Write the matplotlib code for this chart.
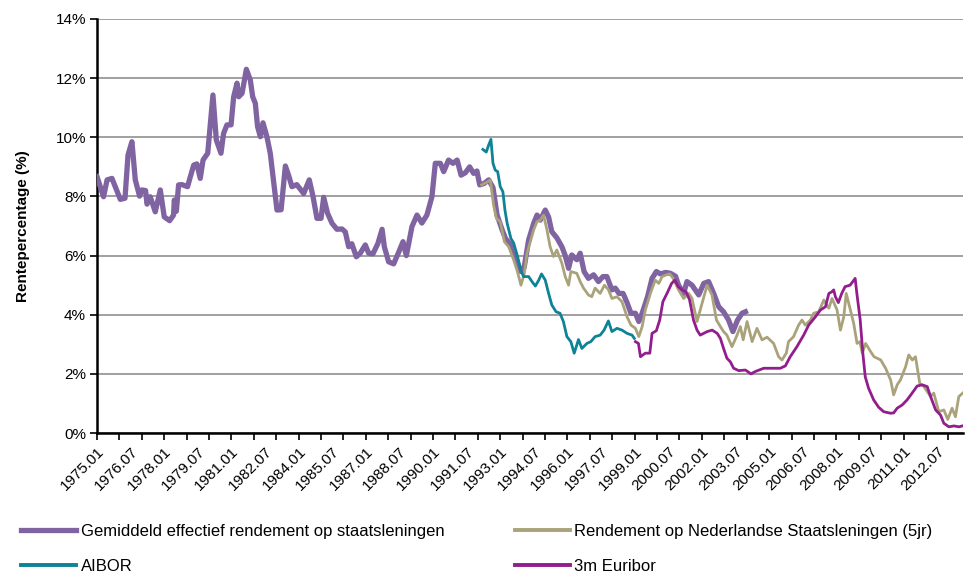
import matplotlib
matplotlib.use("Agg")
import matplotlib.pyplot as plt
from matplotlib.ticker import FuncFormatter, MultipleLocator

plt.rcParams['font.family'] = ['Liberation Sans', 'DejaVu Sans']

# x = maanden sinds 1975.01, waarden in %
gem_m = [0, 3.5, 5.4, 8, 12.5, 15, 16.6, 18.7, 20.5, 22.8, 24, 26, 26.8, 28.5, 31.2, 33.9, 36, 38.9,
         41, 41.4, 42.5, 43.7, 45.5, 48.5, 49.6, 51.8, 53.5, 55.3, 56.8, 59.3, 62.1, 63.9, 66.4, 67.8,
         69.6, 71.8, 73.2, 75, 75.9, 77.7, 80, 82.1, 83.4, 84.8, 86, 87.5, 88.9, 91, 92.8, 96.4, 98.6,
         100.9, 102.6, 104.4, 107, 110.7, 113.7, 115.7, 117.8, 120, 121.4, 123.5, 125.9, 128.5, 131.2,
         133, 134.8, 136.5, 138.9, 141, 143.7, 145.5, 147.8, 150.4, 152.7, 153.9, 156.2, 158.9, 161.5,
         163.9, 165.7, 168.7, 171.4, 174, 176.7, 179.4, 181.2, 183.9, 185.7, 188.3, 190.7, 192.9, 195,
         197.3, 199.6, 201.7, 203.5, 205, 207.4, 209.8, 212.1, 214.3, 217, 218.8, 221.6, 224.3, 227,
         228.8, 231.2, 233.9, 235.7, 237.4, 240.1, 241.9, 243.6, 246.3, 249, 250.8, 252.6, 254.3, 257,
         258.8, 260.9, 263.2, 266, 268.6, 271, 273.1, 275.8, 277.6, 279.6, 281.8, 283.9, 286, 288.4,
         290.2, 292, 294.9, 297.3, 299.6, 301.8, 304.6, 307.2, 309.9, 311.5, 314.2, 316, 318.7, 322.3,
         325, 327.6, 330.3, 333, 335.6, 338.3, 340.6, 343.1, 345.5, 347.3]
gem_v = [8.67, 7.99, 8.56, 8.61, 7.9, 7.94, 9.4, 9.85, 8.56, 8.01, 8.22, 8.2, 7.74, 7.99, 7.48, 8.22, 7.31, 7.18,
         7.37, 7.88, 7.5, 8.39, 8.4, 8.33, 8.58, 9.06, 9.1, 8.61, 9.23, 9.46, 11.43, 9.91, 9.46, 10.13,
         10.42, 10.42, 11.37, 11.83, 11.37, 11.49, 12.3, 11.94, 11.37, 11.15, 10.36, 10.02, 10.49, 10.02, 9.46, 7.54, 7.55,
         9.03, 8.72, 8.33, 8.4, 8.1, 8.56, 8.0, 7.26, 7.26, 7.97, 7.43, 7.09, 6.89, 6.9,
         6.8, 6.3, 6.4, 5.96, 6.08, 6.36, 6.08, 6.06, 6.4, 6.89, 6.3, 5.79, 5.72, 6.1,
         6.47, 6.0, 6.98, 7.37, 7.1, 7.37, 7.99, 9.12, 9.12, 8.84, 9.23, 9.12, 9.23, 8.72,
         8.8, 9.0, 8.78, 8.86, 8.39, 8.44, 8.56, 8.3, 7.37, 6.87, 6.58, 6.36, 5.91, 5.46,
         5.6, 6.53, 7.09, 7.37, 7.2, 7.54, 7.3, 6.81, 6.6, 6.3, 6.0, 5.57, 6.02, 5.86,
         6.08, 5.46, 5.23, 5.35, 5.12, 5.29, 5.29, 4.84, 4.9, 4.72, 4.72, 4.41, 4.05, 4.05,
         3.77, 4.05, 4.61, 5.23, 5.46, 5.38, 5.43, 5.4, 5.3, 5.0, 4.72, 5.12, 5.0, 4.67,
         5.06, 5.12, 4.72, 4.27, 4.1, 3.82, 3.43, 3.82, 4.05, 4.1]

nl5_m = [206, 208.6, 210.7, 212.4, 213.9, 216, 218.2, 220.5, 223.2, 225, 227.1, 228.9, 230.3, 232.1, 233.9,
         235.7, 237.4, 239.2, 241, 242.7, 244.5, 246.3, 249, 250.8, 252.6, 253.8, 257, 258.8, 260.6, 263.2,
         265, 266.8, 269.5, 271.8, 274, 275.8, 278.5, 281.2, 283.9, 286, 288.4, 290.2, 292, 293.7, 296.4,
         299, 300.9, 302.7, 305, 306.8, 308.6, 311.5, 314.2, 316.9, 318.7, 321.4, 324.1, 326.8, 329.4,
         331.8, 333.9, 335.6, 337.4, 340.1, 342.5, 344.6, 346.1, 348.2, 350.9, 353.5, 356.2, 358.9, 362.4,
         365.1, 366.9, 369.2, 370.4, 373.1, 375.8, 377.6, 379.4, 382.1, 383.9, 386.6, 389.3, 392, 393.7,
         396.4, 398.2, 400, 401.3, 403.1, 405.3, 407.1, 408.6, 409.9, 411.7, 414.4, 416.2, 419.8, 422.4,
         425.1, 426.7, 428.6, 430.4, 433.1, 434.8, 436.7, 438.4, 440.7, 442.9, 444.7, 446.5, 448.2, 450.9,
         453.6, 455.7, 458, 459.8, 461.6, 463.9]
nl5_v = [8.39, 8.47, 8.56, 7.71, 7.26, 7.14, 6.47, 6.3, 5.85, 5.5, 5.0, 5.4, 6.08, 6.47, 6.87,
         7.15, 7.2, 7.37, 6.87, 6.3, 5.97, 6.19, 5.74, 5.29, 5.0, 5.46, 5.4, 5.12, 4.9, 4.67,
         4.61, 4.9, 4.72, 5.0, 4.84, 4.55, 4.61, 4.44, 3.93, 3.65, 3.54, 3.26, 3.6, 4.16, 4.72,
         5.17, 5.06, 5.29, 5.35, 5.38, 5.23, 4.84, 4.55, 4.72, 4.55, 3.77, 4.39, 5.0, 4.67,
         3.82, 3.6, 3.43, 3.31, 2.92, 3.26, 3.6, 3.15, 3.77, 3.09, 3.54, 3.15, 3.24, 3.03,
         2.58, 2.47, 2.7, 3.09, 3.26, 3.65, 3.82, 3.65, 3.82, 4.05, 4.1, 4.5, 4.22, 4.55,
         4.16, 3.48, 3.93, 4.72, 4.27, 3.71, 3.03, 3.09, 2.7, 3.03, 2.75, 2.58, 2.47, 2.19,
         1.79, 1.29, 1.63, 1.8, 2.24, 2.64, 2.47, 2.58, 1.68, 1.57, 1.4, 1.24, 1.35, 0.72,
         0.78, 0.46, 0.84, 0.55, 1.23, 1.36]

aibor_m = [206.7, 208.5, 209.8, 211, 212.1, 213.3, 214.6, 216, 217.4, 218.5, 219.7, 221.7, 223.2, 225.3,
           227, 228.5, 231.2, 233, 234.8, 236.6, 238.1, 240.1, 241.9, 243.6, 245.9, 248, 249.8, 251.7,
           253.8, 255.6, 257.9, 259.7, 262.4, 264.5, 266.8, 269.5, 271.6, 273.9, 275.8, 278.5, 281.2,
           283.9, 286.6, 287.8]
aibor_v = [9.59, 9.5, 9.74, 9.93, 9.12, 8.89, 8.84, 8.33, 8.16, 7.54, 7.09, 6.58, 6.42, 5.96,
           5.5, 5.29, 5.29, 5.12, 4.97, 5.17, 5.38, 5.17, 4.72, 4.33, 4.1, 4.05, 3.77, 3.26,
           3.09, 2.7, 3.16, 2.86, 3.03, 3.09, 3.26, 3.31, 3.48, 3.79, 3.43, 3.54, 3.48,
           3.37, 3.31, 3.2]

eur_m = [288.4, 290, 291.1, 293.7, 296.1, 297.3, 299.6, 301.4, 303.1, 305.3, 307.8, 309.5, 311.3, 313.3,
         315.5, 317.4, 319.5, 321.4, 323.1, 326.8, 329.5, 332.2, 333.9, 335.6, 337.4, 339.2, 341, 343.7,
         347.3, 350.3, 352.6, 357.1, 362.4, 366, 368.7, 371.3, 374.9, 378.5, 381.2, 384.8, 387.5, 390.2,
         392, 393.7, 394.6, 395.5, 397.1, 398.9, 400.7, 403.4, 406.1, 407, 408.8, 410.2, 411.5, 413.3,
         416, 418.7, 421.4, 425, 426.7, 428.6, 431.3, 433.9, 436.6, 439.3, 442, 444.7, 446.5, 449.2,
         451.8, 453.6, 456.3, 459, 461.7, 463.5]
eur_v = [3.09, 3.03, 2.58, 2.7, 2.7, 3.37, 3.46, 3.82, 4.44, 4.72, 5.06, 5.17, 4.95, 4.84,
         4.78, 4.5, 3.82, 3.48, 3.31, 3.43, 3.48, 3.37, 3.2, 2.86, 2.53, 2.41, 2.19, 2.11,
         2.13, 2.0, 2.08, 2.19, 2.19, 2.19, 2.27, 2.58, 2.92, 3.31, 3.65, 3.93, 4.16, 4.27,
         4.72, 4.78, 4.84, 4.61, 4.41, 4.72, 4.95, 5.0, 5.23, 4.72, 3.82, 2.7, 1.9, 1.51,
         1.12, 0.87, 0.72, 0.67, 0.68, 0.84, 0.95, 1.12, 1.35, 1.59, 1.63, 1.57, 1.23, 0.78,
         0.61, 0.33, 0.21, 0.24, 0.21, 0.24]

labels = ['Gemiddeld effectief rendement op staatsleningen',
          'Rendement op Nederlandse Staatsleningen (5jr)',
          'AIBOR', '3m Euribor']
tick_labels = ['%d.%s' % (1975 + i * 18 // 12, '01' if (i * 18) % 12 == 0 else '07') for i in range(26)]

fig = plt.figure(figsize=(9.73, 5.74), dpi=100)
ax = fig.add_axes([0.0997, 0.2456, 0.8903, 0.7213])

l1, = ax.plot(gem_m, gem_v, color='#8064A2', lw=3.8, solid_joinstyle='round', zorder=3)
l2, = ax.plot(nl5_m, nl5_v, color='#A9A27A', lw=2.0, zorder=4)
l3, = ax.plot(aibor_m, aibor_v, color='#0E8296', lw=2.0, zorder=4)
l4, = ax.plot(eur_m, eur_v, color='#921E8E', lw=2.0, zorder=5)

ax.set_xlim(0, 464)
ax.set_ylim(0, 14)
ax.yaxis.set_major_locator(MultipleLocator(2))
ax.yaxis.set_major_formatter(FuncFormatter(lambda v, p: '%d%%' % v))
ax.grid(axis='y', color='#999999', lw=1.3)
ax.set_axisbelow(True)

ax.set_xticks([i * 18 for i in range(26)])
ax.set_xticklabels(tick_labels, rotation=45, ha='right', rotation_mode='anchor')
ax.set_xticks(range(0, 464, 12), minor=True)
ax.xaxis.remove_overlapping_locs = False
ax.tick_params(axis='x', which='major', length=0, pad=8, labelsize=11)
ax.tick_params(axis='x', which='minor', length=5, width=1.2, direction='out')
ax.tick_params(axis='y', length=5, width=1.2, labelsize=11, pad=3)

for s in ['top', 'right']:
    ax.spines[s].set_visible(False)
for s in ['left', 'bottom']:
    ax.spines[s].set_linewidth(1.8)

ax.set_ylabel('Rentepercentage (%)', fontsize=11, fontweight='bold', labelpad=18)

kw = dict(frameon=False, fontsize=12, handlelength=3.3, handletextpad=0.25,
          labelspacing=1.2, borderpad=0, borderaxespad=0)
leg1 = fig.legend([l1, l3], [labels[0], labels[2]], loc='upper left',
                  bbox_to_anchor=(0.022, 0.087), **kw)
leg2 = fig.legend([l2, l4], [labels[1], labels[3]], loc='upper left',
                  bbox_to_anchor=(0.529, 0.087), **kw)
for leg in (leg1, leg2):
    for h in leg.legend_handles:
        h.set_linewidth(3.8 if h.get_color() == '#8064A2' else 2.8)

fig.savefig('out.png', dpi=100)
